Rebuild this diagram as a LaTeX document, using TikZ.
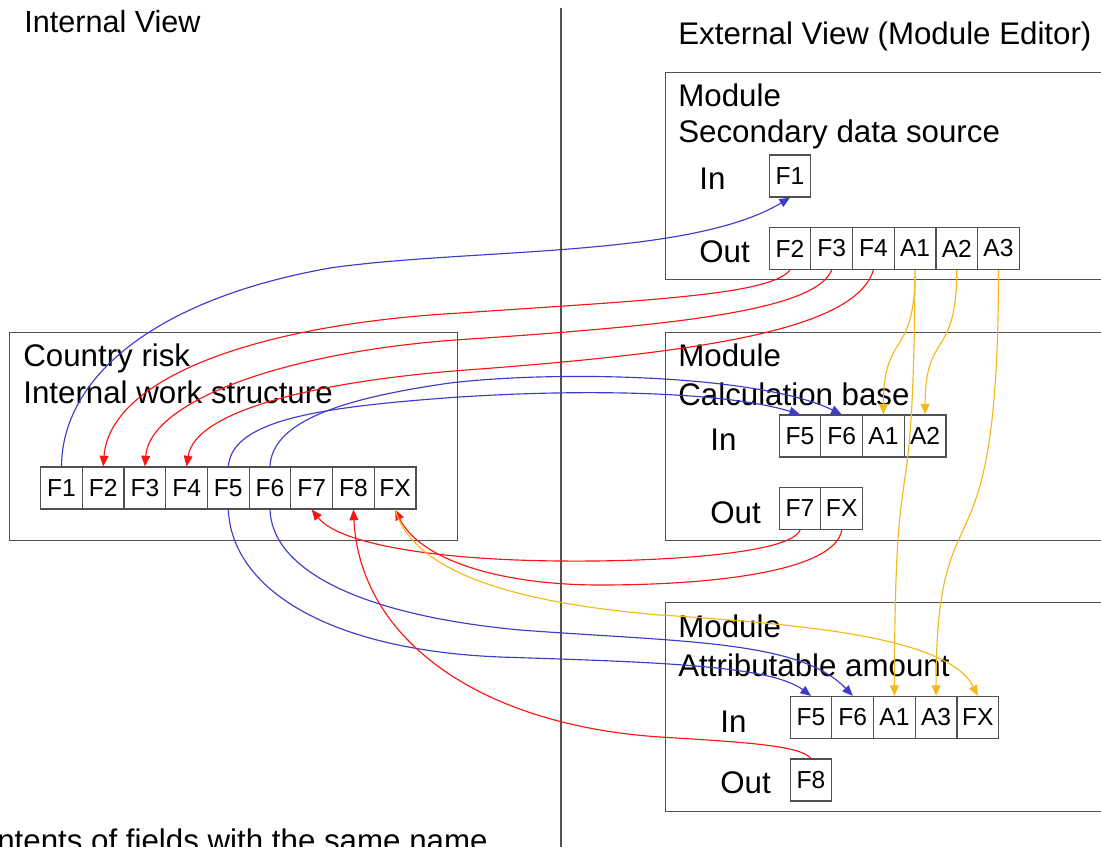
\documentclass[tikz,border=0pt]{standalone}
\usepackage{fontspec}
\setmainfont{Liberation Sans}
\usetikzlibrary{arrows.meta}
\definecolor{cblue}{RGB}{60,60,200}
\definecolor{cred}{RGB}{250,20,20}
\definecolor{corange}{RGB}{245,185,30}
\definecolor{cframe}{RGB}{80,80,80}
\begin{document}
\begin{tikzpicture}[x=0.02cm,y=-0.02cm,
  lbl/.style={anchor=base west,inner sep=0,font=\fontsize{17.8}{21}\selectfont},
  fld/.style={draw=cframe,line width=0.7pt,fill=white,minimum width=0.834cm,minimum height=0.84cm,inner sep=0,font=\fontsize{14}{16}\selectfont},
  frame/.style={draw=cframe,line width=0.8pt,anchor=north west,inner sep=0},
  conn/.style={line width=0.65pt},
  tipped/.style={-{Triangle[length=6pt,width=5pt]}},
  bl/.style={conn,cblue,tipped},
  rd/.style={conn,cred,tipped},
  og/.style={conn,corange,tipped}]
\useasboundingbox (0,0) rectangle (1101,847);
\clip (0,0) rectangle (1101,847);
\fill[white] (0,0) rectangle (1101,847);

% divider
\coordinate (divtop) at (561,8);
\coordinate (divbot) at (561,850);
\draw[cframe,line width=0.8pt] (divtop) -- (divbot);

% titles
\node[lbl,font=\fontsize{17.4}{21}\selectfont] (tint) at (24,33) {Internal View};
\node[lbl] (text) at (678,45) {External View (Module Editor)};
\node[lbl] (tnote) at (-43,851) {Contents of fields with the same name};

% frames
\node[frame,minimum width=8.96cm,minimum height=4.16cm] (cbox) at (9,332) {};
\node[frame,minimum width=8.9cm,minimum height=4.14cm] (tbox) at (665,72) {};
\node[frame,minimum width=8.9cm,minimum height=4.16cm] (mbox) at (665,332) {};
\node[frame,minimum width=8.9cm,minimum height=4.18cm] (bbox) at (665,602) {};

% frame labels
\node[lbl] (c1) at (23,367) {Country risk};
\node[lbl] (c2) at (23,403) {Internal work structure};

\node[lbl] (t1) at (678,107) {Module};
\node[lbl] (t2) at (678,143) {Secondary data source};
\node[lbl] (t3) at (699,190) {In};
\node[lbl] (t4) at (699,263) {Out};

\node[lbl] (m1) at (678,367) {Module};
\node[lbl] (m2) at (678,405) {Calculation base};
\node[lbl] (m3) at (710,450) {In};
\node[lbl] (m4) at (710,523) {Out};

\node[lbl] (b1) at (678,637) {Module};
\node[lbl] (b2) at (678,676) {Attributable amount};
\node[lbl] (b3) at (720,732) {In};
\node[lbl] (b4) at (720,793) {Out};

% left fields
\node[fld] (LF1) at (61.5,488) {F1};
\node[fld] (LF2) at (103.2,488) {F2};
\node[fld] (LF3) at (144.9,488) {F3};
\node[fld] (LF4) at (186.6,488) {F4};
\node[fld] (LF5) at (228.3,488) {F5};
\node[fld] (LF6) at (270,488) {F6};
\node[fld] (LF7) at (311.7,488) {F7};
\node[fld] (LF8) at (353.4,488) {F8};
\node[fld] (LFX) at (395.1,488) {FX};

% top module fields
\node[fld] (TF1) at (790,176) {F1};
\node[fld] (TF2) at (790,248.5) {F2};
\node[fld] (TF3) at (831.7,248.5) {F3};
\node[fld] (TF4) at (873.4,248.5) {F4};
\node[fld] (TA1) at (915.1,248.5) {A1};
\node[fld] (TA2) at (956.8,248.5) {A2};
\node[fld] (TA3) at (998.5,248.5) {A3};

% middle module fields
\node[fld] (MF5) at (800,436) {F5};
\node[fld] (MF6) at (841.7,436) {F6};
\node[fld] (MA1) at (883.4,436) {A1};
\node[fld] (MA2) at (925.1,436) {A2};
\node[fld] (MF7) at (800,508.5) {F7};
\node[fld] (MFX) at (841.7,508.5) {FX};

% bottom module fields
\node[fld] (BF5) at (811,717.5) {F5};
\node[fld] (BF6) at (852.7,717.5) {F6};
\node[fld] (BA1) at (894.4,717.5) {A1};
\node[fld] (BA3) at (936.1,717.5) {A3};
\node[fld] (BFX) at (977.8,717.5) {FX};
\node[fld] (BF8) at (811,780) {F8};

% blue connectors
\draw[bl] (LF1.north) .. controls (62,380) and (150,300) .. (330,268)
          .. controls (470,248) and (690,258) .. (TF1.south);
\draw[bl] (LF5.north) .. controls (232,425) and (300,410) .. (420,400)
          .. controls (560,388) and (720,390) .. (MF5.north);
\draw[bl] (LF6.north) .. controls (272,425) and (330,400) .. (450,383)
          .. controls (560,370) and (760,375) .. (MF6.north);
\draw[bl] (LF5.south) .. controls (232,590) and (330,650) .. (500,657)
          .. controls (650,662) and (770,665) .. (BF5.north);
\draw[bl] (LF6.south) .. controls (272,570) and (360,615) .. (520,630)
          .. controls (680,642) and (800,640) .. (BF6.north);

% red connectors
\draw[rd] (TF2.south) .. controls (770,295) and (650,300) .. (460,313)
          .. controls (250,325) and (110,380) .. (LF2.north);
\draw[rd] (TF3.south) .. controls (815,310) and (680,325) .. (470,339)
          .. controls (290,350) and (150,400) .. (LF3.north);
\draw[rd] (TF4.south) .. controls (855,330) and (700,352) .. (480,369)
          .. controls (320,380) and (195,410) .. (LF4.north);
\draw[rd] (MF7.south) .. controls (790,555) and (650,562) .. (560,561)
          .. controls (440,560) and (340,545) .. (LF7.south);
\draw[rd] (MFX.south) .. controls (835,570) and (720,585) .. (600,585)
          .. controls (500,585) and (420,560) .. (LFX.south);
\draw[rd] (BF8.north) .. controls (800,745) and (740,742) .. (660,737)
          .. controls (480,725) and (360,640) .. (LF8.south);

% orange connectors
\draw[og] (LFX.south) .. controls (410,560) and (480,600) .. (660,615)
          .. controls (820,625) and (950,640) .. (BFX.north);
\draw[og] (TA1.south) .. controls (915.1,360) and (883.4,330) .. (MA1.north);
\draw[og] (TA2.south) .. controls (956.8,360) and (925.1,330) .. (MA2.north);
\draw[og] (TA1.south) .. controls (913,560) and (895,410) .. (BA1.north);
\draw[og] (TA3.south) .. controls (998.5,600) and (936.1,470) .. (BA3.north);
\end{tikzpicture}
\end{document}
